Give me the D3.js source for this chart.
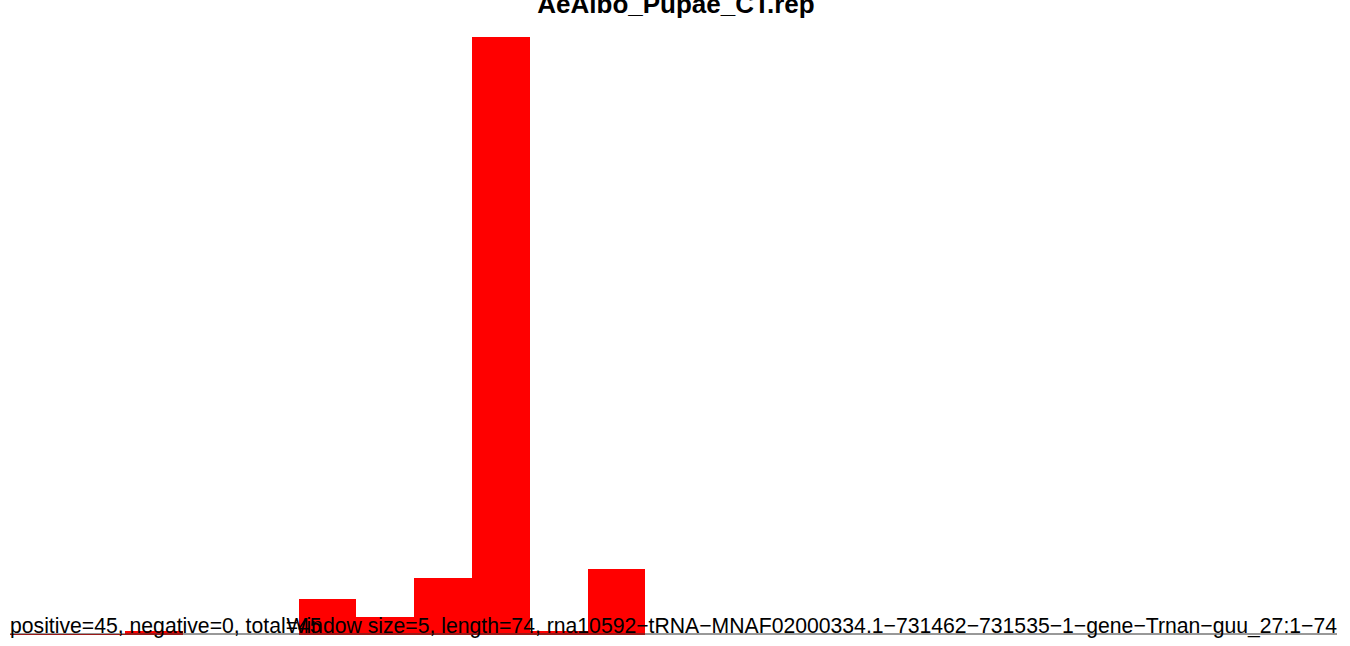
<!DOCTYPE html>
<html>
<head>
<meta charset="utf-8">
<script src="https://cdn.jsdelivr.net/npm/d3@7"></script>
<style>
  html, body { margin: 0; padding: 0; background: #fff; }
  svg { display: block; }
</style>
</head>
<body>
<svg id="chart" width="1350" height="646"></svg>
<script>
// ---- data ----
const title = "AeAlbo_Pupae_CT.rep";
const windowStarts = [0, 5, 10, 15, 20, 25, 30, 35, 40, 45, 50, 55, 60, 65, 70];
const windowSize = 5;
const positiveValues = [0.08, 0.08, 0.22, 0, 0, 2.0, 1.0, 3.17, 33.2, 0.22, 3.67, 0, 0, 0, 0];
const leftLabel = "positive=45, negative=0, total=45";
const rightLabel = "Window size=5, length=74, rna10592\u2212tRNA\u2212MNAF02000334.1\u2212731462\u2212731535\u22121\u2212gene\u2212Trnan\u2212guu_27:1\u221274";

// ---- layout ----
const svg = d3.select("#chart");
const baseline = 635;
const topY = 37;

const x = d3.scaleLinear()
  .domain([0, 75])
  .range([9.5, 9.5 + 15 * 57.8]);

const y = d3.scaleLinear()
  .domain([0, d3.max(positiveValues)])
  .range([baseline, topY]);

// bars
svg.append("g")
  .selectAll("rect")
  .data(windowStarts.map((s, i) => ({ s, v: positiveValues[i] })))
  .join("rect")
  .attr("x", d => x(d.s))
  .attr("width", d => x(d.s + windowSize) - x(d.s))
  .attr("y", d => y(d.v))
  .attr("height", d => baseline - y(d.v))
  .attr("fill", "#ff0000")
  .attr("shape-rendering", "crispEdges");

// baseline (zero line)
svg.append("line")
  .attr("x1", 10).attr("x2", 1337)
  .attr("y1", 634).attr("y2", 634)
  .attr("stroke", "#333")
  .attr("stroke-width", 1);

// title
svg.append("text")
  .attr("x", 676)
  .attr("y", 13)
  .attr("text-anchor", "middle")
  .attr("font-family", "Liberation Sans, Arial, sans-serif")
  .attr("font-weight", "bold")
  .attr("font-size", 26)
  .attr("fill", "#000")
  .text(title);

// bottom labels
svg.append("text")
  .attr("x", 10)
  .attr("y", 633)
  .attr("font-family", "Liberation Sans, Arial, sans-serif")
  .attr("font-size", 21.2)
  .attr("fill", "#000")
  .text(leftLabel);

svg.append("text")
  .attr("x", 1337)
  .attr("y", 633)
  .attr("text-anchor", "end")
  .attr("font-family", "Liberation Sans, Arial, sans-serif")
  .attr("font-size", 21.2)
  .attr("fill", "#000")
  .text(rightLabel);
</script>
</body>
</html>
